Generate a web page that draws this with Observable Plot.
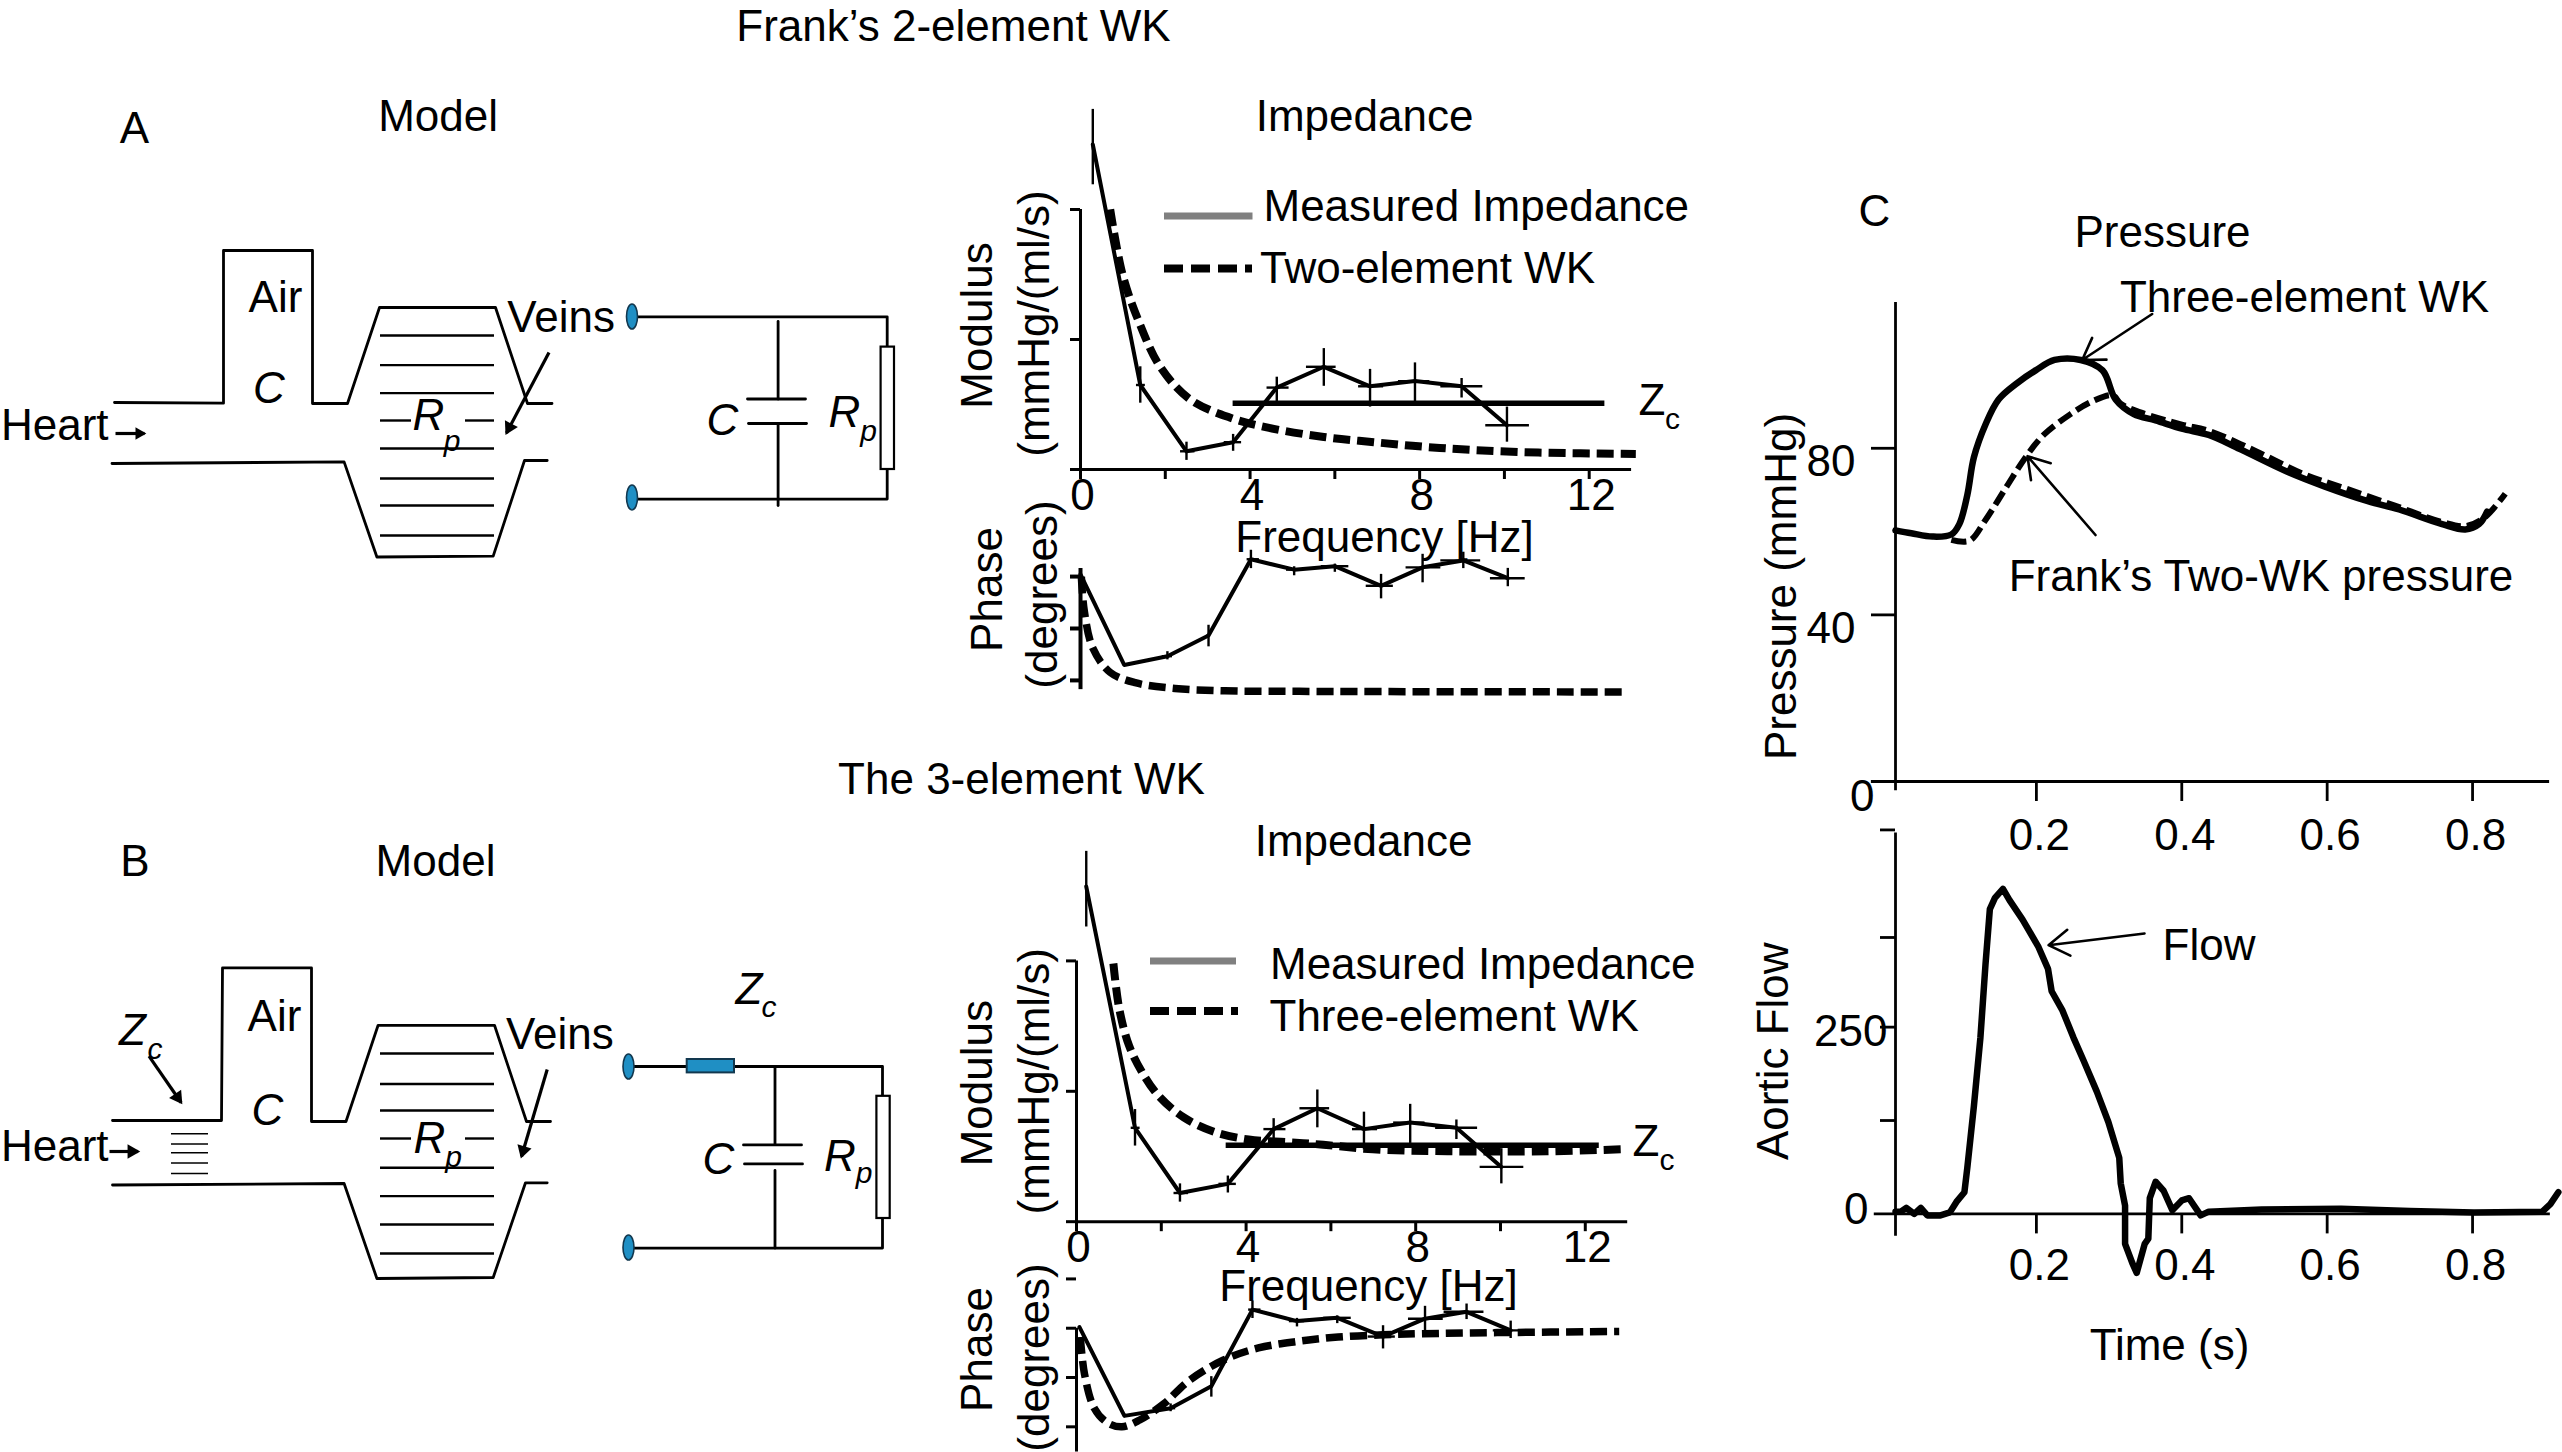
<!DOCTYPE html>
<html><head><meta charset="utf-8">
<script src="https://cdn.jsdelivr.net/npm/d3@7"></script>
<script src="https://cdn.jsdelivr.net/npm/@observablehq/plot@0.6"></script>
<style>html,body{margin:0;padding:0;background:#fff}#page{position:relative;width:2562px;height:1452px;overflow:hidden;background:#fff}</style>
</head><body><div id="page"></div>
<script>
// ---------- values ----------
const measFreqA = [0.29,1.41,2.5,3.6,4.63,5.74,6.83,7.89,8.99,10.06];
const measModA  = [2.5,0.65,0.14,0.21,0.63,0.79,0.64,0.68,0.64,0.34];
const measFreqB = [0.23,1.38,2.44,3.57,4.65,5.68,6.78,7.87,8.96,10.02];
const measModB  = [2.57,0.72,0.22,0.29,0.71,0.87,0.71,0.76,0.72,0.42];
const modErrUp  = [0.27,0.14,0.07,0.06,0.08,0.14,0.13,0.14,0.06,0.14];
const modErrDn  = [0.31,0.14,0.07,0.07,0.12,0.15,0.16,0.16,0.09,0.13];
const modErrL   = [0,0.09,0.14,0.21,0.23,0.41,0.27,0.39,0.49,0.50];
const modErrR   = [0,0.12,0.2,0.2,0.29,0.29,0.32,0.35,0.5,0.53];
const wk2ModF = [0.7,1,1.41,1.88,2.58,3.52,4.45,5.74,6.92,8.09,9.26,10.8,13.1];
const wk2ModV = [2.0,1.49,1.11,0.79,0.54,0.40,0.32,0.25,0.21,0.175,0.15,0.13,0.12];
const wk3ModF = [0.87,1.01,1.24,1.54,1.95,2.53,3.24,4.06,5.0,5.82,6.99,8.75,11.1,12.86];
const wk3ModV = [1.98,1.63,1.35,1.15,0.96,0.80,0.69,0.63,0.61,0.59,0.555,0.54,0.54,0.555];
const zcA = {f:[3.6,12.37], v:0.51};
const zcB = {f:[3.53,12.33], v:0.587};
const phFreqA = [0,1.03,2.05,3.02,4.02,5.04,6.0,7.09,8.07,9.03,10.08];
const phValA  = [2,-76.6,-69,-51,15,6,9,-8,8,14,-1.4];
const phFreqB = [0.07,1.13,2.22,3.18,4.15,5.2,6.15,7.23,8.22,9.2,10.24];
const phValB  = [1,-80,-73,-53,17,6.5,9.5,-7.6,8.7,15,-2];
const phErrUp = [0,0,3.9,8.8,7.8,2.5,1.8,9.9,11.3,7.1,8.5];
const phErrDn = [0,0,3.2,9.9,8.1,5.3,5.3,11.3,13.4,7.1,7.4];
const phErrL  = [0,0,0.12,0.04,0.09,0.18,0.32,0.35,0.39,0.53,0.41];
const phErrR  = [0,0,0.12,0.04,0.2,0.18,0.33,0.29,0.43,0.41,0.41];
const wk2PhF = [0.02,0.09,0.29,0.7,1.29,2.23,3.4,5.16,12.9];
const wk2PhV = [0,-30,-62,-83,-92,-97,-99,-99.5,-100];
const wk3PhF = [0.09,0.19,0.42,0.72,1.07,1.48,2.06,2.65,3.47,4.29,5.23,6.17,7.23,8.16,9.92,12.8];
const wk3PhV = [-8,-42,-73,-86,-90,-84,-69,-48,-29,-18,-12,-8,-6,-5,-4,-3];
const freqTicks = [0,2,4,6,8,10,12];
const freqLabels = [0,4,8,12];
const timeTicks = [0.2,0.4,0.6,0.8];
const p3T = [0.0062,0.028,0.057,0.083,0.094,0.105,0.114,0.13,0.148,0.174,0.199,0.225,0.261,0.291,0.309,0.334,0.364,0.4,0.437,0.48,0.546,0.597,0.656,0.699,0.758,0.79,0.809,0.82];
const p3V = [60.3,59.6,58.8,59.3,61.8,68.8,77.8,85.7,91.7,95.7,98.7,101.2,101.2,98.7,91.7,88.2,86.7,84.7,83.2,79.8,74.3,70.8,67.3,65.3,61.8,60.5,61.8,64.8];
const p2T = [0.083,0.108,0.13,0.159,0.185,0.21,0.247,0.276,0.305,0.316,0.342,0.4,0.437,0.502,0.568,0.626,0.692,0.758,0.79,0.816,0.845];
const p2V = [58,57.8,62.8,70.8,77.8,83.2,88.2,91.2,92.7,90.7,88.7,85.7,84.2,79.3,73.8,70.3,66.3,62.3,61.3,63.3,69.1];
const flowT = [0.0062,0.0135,0.021,0.032,0.041,0.05,0.068,0.081,0.09,0.101,0.105,0.114,0.123,0.13,0.136,0.143,0.154,0.163,0.181,0.203,0.216,0.221,0.236,0.251,0.265,0.283,0.299,0.314,0.316,0.322,0.322,0.332,0.338,0.349,0.354,0.356,0.364,0.375,0.387,0.4,0.41,0.426,0.437,0.51,0.619,0.714,0.802,0.896,0.907,0.918];
const flowV = [3,3,8,0,8,-2,-2,2,16,29,62,144,236,334,408,423,435,420,394,357,328,298,272,236,205,164,123,75,41,11,-40,-66,-79,-40,-33,21,43,31,5,18,21,-2,3,6,7,4,2,3,13,29];

// ---------- helpers ----------
const FONT = '"Liberation Sans", Arial, sans-serif';
const PAD = 100;
const page = document.getElementById('page');
const zip = (xs, ys) => xs.map((x,i)=>({x, y:ys[i]}));
function panel(L,R,T,B,xDomain,yDomain,marks){
  const svg = Plot.plot({
    width:R-L+2*PAD, height:B-T+2*PAD,
    marginLeft:PAD, marginRight:PAD, marginTop:PAD, marginBottom:PAD,
    x:{domain:xDomain}, y:{domain:yDomain},
    style:{position:'absolute',left:(L-PAD)+'px',top:(T-PAD)+'px',overflow:'visible',maxWidth:'none',
      background:'transparent',fontFamily:FONT,fontSize:'44px',color:'#000'},
    marks
  });
  page.appendChild(svg);
  return svg;
}
function errBars(xs,ys,up,dn,l,r,sw){
  const d = xs.map((x,i)=>({x,y:ys[i],hi:ys[i]+up[i],lo:ys[i]-dn[i],xl:x-l[i],xr:x+r[i],hasV:up[i]+dn[i]>0,hasH:l[i]+r[i]>0}));
  return [
    Plot.ruleX(d.filter(e=>e.hasV),{x:'x',y1:'lo',y2:'hi',stroke:'#000',strokeWidth:sw}),
    Plot.ruleY(d.filter(e=>e.hasH),{y:'y',x1:'xl',x2:'xr',stroke:'#000',strokeWidth:sw})
  ];
}
const solid = (xs,ys,sw)=>Plot.line(zip(xs,ys),{x:'x',y:'y',stroke:'#000',strokeWidth:sw});
const dashed = (xs,ys,sw,dash)=>Plot.line(zip(xs,ys),{x:'x',y:'y',stroke:'#000',strokeWidth:sw,strokeDasharray:dash,strokeLinecap:'butt',curve:'catmull-rom'});

function modulusMarks(f,v,wF,wV,zc,labelPad){
  return [
    Plot.ruleX([0],{y1:0,y2:2,stroke:'#000',strokeWidth:3}),
    Plot.ruleY([0],{x1:0,x2:13,stroke:'#000',strokeWidth:3}),
    Plot.axisY({ticks:[0,1,2],tickSize:10,text:null,strokeWidth:3,label:null}),
    Plot.axisX({ticks:freqTicks,tickSize:10,text:null,strokeWidth:3,label:null}),
    Plot.axisX({ticks:freqLabels,tickSize:0,tickPadding:labelPad,label:null,tickFormat:d=>String(d),dx:2}),
    Plot.ruleY([zc.v],{x1:zc.f[0],x2:zc.f[1],stroke:'#000',strokeWidth:5.5}),
    dashed(wF,wV,8,'17,7'),
    solid(f,v,4),
    ...errBars(f,v,modErrUp,modErrDn,modErrL,modErrR,2.4)
  ];
}
function phaseMarks(f,v,wF,wV,ticks,top,bottom,axisW){
  return [
    Plot.ruleX([0],{y1:bottom,y2:top,stroke:'#000',strokeWidth:axisW}),
    Plot.axisY({ticks,tickSize:10,text:null,strokeWidth:axisW,label:null}),
    Plot.axisX({ticks:[],text:null,tickSize:0,label:null}),
    dashed(wF,wV,7.5,'17,7'),
    solid(f,v,4),
    ...errBars(f,v,phErrUp,phErrDn,phErrL,phErrR,2.4)
  ];
}

// Panel A
panel(1079.5,1630.6,79,469,[0,13],[0,3],modulusMarks(measFreqA,measModA,wk2ModF,wk2ModV,zcA,9));
panel(1079.5,1630.6,553,703,[0,13],[-110,20],phaseMarks(phFreqA,phValA,wk2PhF,wk2PhV,[0,-45,-90],7,-98,4));
// Panel B
panel(1076.4,1627.6,829.6,1220.8,[0,13],[0,3],modulusMarks(measFreqB,measModB,wk3ModF,wk3ModV,zcB,9));
panel(1076.4,1627.6,1262.3,1459.5,[0,13],[-120,60],phaseMarks(phFreqB,phValB,wk3PhF,wk3PhV,[45,0,-45,-90],0,-113,3));
// Panel C
const tDom = [0.0062,0.92];
panel(1894.5,2558.8,302,781,tDom,[0,115],[
  Plot.ruleX([tDom[0]],{y1:-2.2,y2:115,stroke:'#000',strokeWidth:2.8}),
  Plot.ruleY([0],{x1:-0.027,x2:0.906,stroke:'#000',strokeWidth:2.8}),
  Plot.axisY({ticks:[40,80],tickSize:24,text:null,strokeWidth:2.8,label:null}),
  Plot.axisY({ticks:[40,80],tickSize:0,tickPadding:40,dy:14,label:null}),
  Plot.axisY({ticks:[0],tickSize:0,tickPadding:21,dy:15,label:null}),
  Plot.axisX({ticks:timeTicks,tickSize:20,text:null,strokeWidth:2.8,label:null}),
  Plot.axisX({ticks:timeTicks,tickSize:0,tickPadding:37,dx:3,tickFormat:d3.format('.1f'),label:null}),
  Plot.line(zip(p3T,p3V),{x:'x',y:'y',stroke:'#000',strokeWidth:6.5,curve:'catmull-rom'}),
  Plot.line(zip(p2T,p2V),{x:'x',y:'y',stroke:'#000',strokeWidth:6,strokeDasharray:'15,6',strokeLinecap:'butt',curve:'catmull-rom'})
]);
panel(1894.5,2558.8,810.3,1213.7,tDom,[0,540],[
  Plot.ruleX([tDom[0]],{y1:-30,y2:510,stroke:'#000',strokeWidth:2.8}),
  Plot.ruleY([0],{x1:-0.023,x2:0.907,stroke:'#000',strokeWidth:2.8}),
  Plot.axisY({ticks:[125,250,370,514],tickSize:15,text:null,strokeWidth:2.8,label:null}),
  Plot.axisY({ticks:[250],tickSize:0,tickPadding:8,dy:5,label:null}),
  Plot.axisY({ticks:[0],tickSize:0,tickPadding:27,dy:-4,label:null}),
  Plot.axisX({ticks:timeTicks,tickSize:20,text:null,strokeWidth:2.8,label:null}),
  Plot.axisX({ticks:timeTicks,tickSize:0,tickPadding:35,dx:3,tickFormat:d3.format('.1f'),label:null}),
  Plot.line(zip(flowT,flowV),{x:'x',y:'y',stroke:'#000',strokeWidth:6.5})
]);

// ---------- schematic overlay, in a 2562 x 1452 diagram space ----------
const pipeLines = [
  [[114,402],[223,402.7],[223,250],[312,250],[312,403],[347,403],[379,307],[495,307],[527,403],[551.5,403]],
  [[111.5,463],[343.6,461.4],[376.4,556.5],[492.7,555.6],[524,460],[546.7,460]],
  [[112,1120],[221,1120],[222,967.4],[311,967.4],[311,1121],[345.5,1121],[377.6,1024.8],[494,1024.8],[526,1121],[550,1121]],
  [[112,1184.5],[343.6,1183],[376.4,1278],[492.7,1277],[525,1182.3],[546.7,1182.3]]
];
const wireLines = [
  [[631,316.3],[886.7,316.3],[886.7,346.6]],[[886.7,469],[886.7,498.6],[631,498.6]],
  [[777.6,321],[777.6,398.5]],[[747,398.5],[805,398.5]],[[748,423],[806,423]],[[777.6,423],[777.6,505]],
  [[628,1066],[686.7,1066]],[[734,1066],[882,1066],[882,1096]],[[882,1218],[882,1247.6],[628,1247.6]],
  [[774.5,1066],[774.5,1143]],[[743,1144.4],[801,1144.4]],[[744,1163.4],[802,1163.4]],[[774.5,1170],[774.5,1247.6]]
];
const rungsA = [335,364.6,392.6,448,478,505,535];
const rungsB = [1053,1083.5,1110,1167.3,1195.6,1224,1253];
const rungGapsY = [420,1138];
const zcRungs = [1133.3,1143.5,1152.3,1162.5,1173];
const resistors = [{x1:880.6,x2:894,y1:346.6,y2:469},{x1:876.4,x2:889.7,y1:1095.8,y2:1218}];
const zcBox = [{x1:686.7,x2:734,y1:1059,y2:1072.4}];
const terminals = [[631.5,316],[631.5,497],[628,1066],[628,1247]];
const solidArrows = [
  {x1:548.5,y1:352,x2:506,y2:432.5,r:7},{x1:115,y1:433,x2:144,y2:433,r:6},
  {x1:148.5,y1:1055.7,x2:180.6,y2:1102,r:7},{x1:109,y1:1151,x2:137.6,y2:1151,r:7},{x1:546.7,y1:1069,x2:521,y2:1156,r:7}
];
const arrowHeads = solidArrows.map(a=>{
  const dx=a.x2-a.x1, dy=a.y2-a.y1, n=Math.hypot(dx,dy);
  return {x:a.x2-dx/n*a.r*0.9, y:a.y2-dy/n*a.r*0.9, r:a.r, rot:Math.atan2(dx,-dy)*180/Math.PI};
});
const openArrows = [
  {x1:2151.7,y1:313.5,x2:2081.7,y2:359.5},{x1:2095,y1:534.5,x2:2027,y2:455.7},{x1:2144,y1:933,x2:2048,y2:944.7}
];
const legendGray = [{x1:1164,x2:1252.5,y:215.5},{x1:1150,x2:1236,y:960.5}];
const legendDash = [{x1:1164,x2:1252,y:268},{x1:1150,x2:1238,y:1010.4}];
const L = (t,x,y,s=44,r=0)=>({t,x,y,s,r});
const labelsMid = [
  L('Frank’s 2-element WK',953,26.5),L('A',134,128),L('Model',437.6,116),L('Impedance',1364,116),L('Air',275,297),
  L('Veins',560.6,317),L('Frequency [Hz]',1384,537),
  L('Modulus',977,325,44,-90),L('(mmHg/(ml/s)',1034.6,323,44,-90),L('Phase',987,589,44,-90),L('(degrees)',1042,594,44,-90),
  L('Z',1651.5,400),L('c',1672,419,30),
  L('The 3-element WK',1021,779),L('B',134.5,861.5),L('Model',435,861.5),L('Impedance',1363,841.6),L('Air',274,1016),
  L('Veins',559.4,1034.5),L('Frequency [Hz]',1368,1286.5),
  L('Modulus',977,1082.7,44,-90),L('(mmHg/(ml/s)',1034.6,1080.7,44,-90),L('Phase',977,1349,44,-90),L('(degrees)',1034.6,1357,44,-90),
  L('Z',1645.5,1141.8),L('c',1666.4,1159.7,30),
  L('C',1874,211),L('Pressure',2162,232),L('Three-element WK',2304,297),L('Frank’s Two-WK pressure',2260.5,576),
  L('Pressure (mmHg)',1781.5,586,44,-90),L('Flow',2208.5,945.4),L('Time (s)',2169,1345),L('Aortic Flow',1773.5,1050.7,44,-90)
];
const labelsStart = [
  L('Heart',0.5,425),L('Measured Impedance',1263,206.5),L('Two-element WK',1259.5,268),
  L('Heart',0.5,1146),L('Measured Impedance',1269.5,964),L('Three-element WK',1269,1016)
];
const labelsItalic = [
  L('C',268.5,388),L('R',428,415.5),L('p',451.5,441,30),L('C',722,420),L('R',844,412),L('p',868,431,30),
  L('C',267,1110),L('R',429,1138),L('p',453,1157,30),L('Z',132,1030),L('c',154.5,1049,30),
  L('Z',748.5,989.5),L('c',768.5,1007,30),L('C',718,1159),L('R',839.4,1156),L('p',863.6,1172.6,30)
];
const polyRows = pipeLines.concat(wireLines).flatMap((pts,id)=>pts.map(p=>({id,x:p[0],y:p[1]})));
const rungRows = [
  ...rungsA.map(y=>({x1:380,x2:494,y})),...rungsB.map(y=>({x1:380,x2:494,y})),
  ...rungGapsY.flatMap(y=>[{x1:380,x2:411,y},{x1:465,x2:494,y}])
];
const ellipse = {draw(c){const rx=5.5,ry=12.5,k=0.5523;c.moveTo(0,-ry);
  c.bezierCurveTo(k*rx,-ry,rx,-k*ry,rx,0);c.bezierCurveTo(rx,k*ry,k*rx,ry,0,ry);
  c.bezierCurveTo(-k*rx,ry,-rx,k*ry,-rx,0);c.bezierCurveTo(-rx,-k*ry,-k*rx,-ry,0,-ry);c.closePath();}};
const textOpts = {x:'x',y:'y',text:'t',fontSize:'s',rotate:'r',fill:'#000',fontFamily:FONT};
const overlay = Plot.plot({
  width:2562,height:1452,margin:0,
  x:{domain:[0,2562],axis:null},y:{domain:[1452,0],axis:null},
  r:{type:'identity'},
  style:{position:'absolute',left:'0',top:'0',maxWidth:'none',background:'transparent',fontFamily:FONT},
  marks:[
    Plot.line(polyRows,{x:'x',y:'y',z:'id',stroke:'#000',strokeWidth:2.8}),
    Plot.ruleY(rungRows,{y:'y',x1:'x1',x2:'x2',stroke:'#000',strokeWidth:2.4}),
    Plot.ruleY(zcRungs,{x1:171,x2:208,stroke:'#000',strokeWidth:1.6}),
    Plot.rect(resistors,{x1:'x1',x2:'x2',y1:'y1',y2:'y2',fill:'#fff',stroke:'#000',strokeWidth:2.2}),
    Plot.rect(zcBox,{x1:'x1',x2:'x2',y1:'y1',y2:'y2',fill:'#1f8fc4',stroke:'#12384f',strokeWidth:2}),
    Plot.dot(terminals,{x:d=>d[0],y:d=>d[1],symbol:ellipse,r:1,fill:'#1f8fc4',stroke:'#12384f',strokeWidth:1.6}),
    Plot.link(solidArrows,{x1:'x1',y1:'y1',x2:'x2',y2:'y2',stroke:'#000',strokeWidth:3.2}),
    Plot.dot(arrowHeads,{x:'x',y:'y',r:'r',rotate:'rot',symbol:'triangle2',fill:'#000'}),
    Plot.arrow(openArrows,{x1:'x1',y1:'y1',x2:'x2',y2:'y2',stroke:'#000',strokeWidth:2.6,headLength:14,headAngle:65}),
    Plot.ruleY(legendGray,{y:'y',x1:'x1',x2:'x2',stroke:'#808080',strokeWidth:7}),
    Plot.ruleY(legendDash,{y:'y',x1:'x1',x2:'x2',stroke:'#000',strokeWidth:8,strokeDasharray:'19,8'}),
    Plot.text(labelsMid,textOpts),
    Plot.text(labelsStart,{...textOpts,textAnchor:'start'}),
    Plot.text(labelsItalic,{...textOpts,fontStyle:'italic'})
  ]
});
page.appendChild(overlay);
</script>
</body></html>
